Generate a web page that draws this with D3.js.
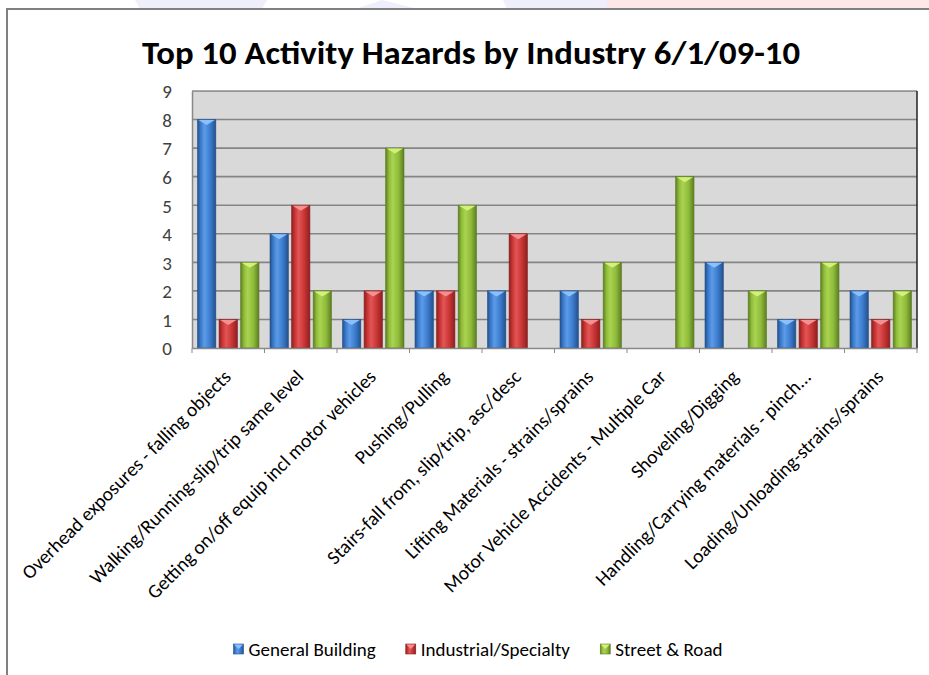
<!DOCTYPE html>
<meta charset="utf-8">
<style>
    body { margin: 0; background: #fff; }
    text { font-family: Carlito, Calibri, Lato, sans-serif; }
    .grid line { stroke: #858585; stroke-width: 1.6; }
    .axis--y text { font-size: 19px; fill: #404040; }
    .axis--x text { font-size: 19.5px; fill: #000; }
</style>
<svg width="929" height="675"></svg>
<script src="https://d3js.org/d3.v7.min.js"></script>
<script>

    var categories = [
        "Overhead exposures - falling objects",
        "Walking/Running-slip/trip same level",
        "Getting on/off equip incl motor vehicles",
        "Pushing/Pulling",
        "Stairs-fall from, slip/trip, asc/desc",
        "Lifting Materials - strains/sprains",
        "Motor Vehicle Accidents - Multiple Car",
        "Shoveling/Digging",
        "Handling/Carrying materials - pinch...",
        "Loading/Unloading-strains/sprains"
    ];
    var generalBuilding = [8, 4, 1, 2, 2, 2, 0, 3, 1, 2];
    var industrialSpecialty = [1, 5, 2, 2, 4, 1, 0, 0, 1, 1];
    var streetRoad = [3, 2, 7, 5, 0, 3, 6, 2, 3, 2];
    var seriesNames = ["General Building", "Industrial/Specialty", "Street & Road"];
    var yTicks = [0, 1, 2, 3, 4, 5, 6, 7, 8, 9];

    var svg = d3.select("svg"),
        margin = {top: 91, right: 12, bottom: 327, left: 192},
        width = +svg.attr("width") - margin.left - margin.right,
        height = +svg.attr("height") - margin.top - margin.bottom;

    // colours: [edge, main, highlight, bevel]
    var palette = [
        ["#24508c", "#3b7bcc", "#5b9be8", "#8cc0fa"],
        ["#8c2020", "#c93434", "#e25656", "#f59090"],
        ["#5c7d22", "#8fbb3a", "#a9d450", "#d2f07a"]
    ];

    var defs = svg.append("defs");
    palette.forEach(function(c, i) {
        var gr = defs.append("linearGradient").attr("id", "grad" + i)
            .attr("x1", "0%").attr("x2", "100%").attr("y1", "0%").attr("y2", "0%");
        gr.append("stop").attr("offset", "0%").attr("stop-color", c[0]);
        gr.append("stop").attr("offset", "18%").attr("stop-color", c[1]);
        gr.append("stop").attr("offset", "38%").attr("stop-color", c[2]);
        gr.append("stop").attr("offset", "70%").attr("stop-color", c[1]);
        gr.append("stop").attr("offset", "100%").attr("stop-color", c[0]);
    });

    // faint watermark strip above the frame
    var wm = svg.append("g");
    wm.append("path").attr("d", "M135,0 L267,0 L262,9 L140,9 Z").attr("fill", "#efeffc");
    wm.append("path").attr("d", "M382,0 L418,9 L355,9 Z").attr("fill", "#efeffc");
    wm.append("path").attr("d", "M503,0 L607,0 L607,9 L507,9 Z").attr("fill", "#efeffc");
    wm.append("path").attr("d", "M607,0 L929,0 L929,9 L607,9 Z").attr("fill", "#fde7e9");

    // chart frame
    svg.append("path").attr("d", "M7,675 L7,9 L929,9")
        .attr("fill", "none").attr("stroke", "#808080").attr("stroke-width", 2);

    svg.append("text")
        .attr("x", 471).attr("y", 64)
        .attr("text-anchor", "middle")
        .style("font-size", "33px").style("font-weight", "bold")
        .attr("textLength", 658).attr("lengthAdjust", "spacingAndGlyphs")
        .text("Top 10 Activity Hazards by Industry 6/1/09-10");

    var g = svg.append("g")
        .attr("transform", "translate(" + margin.left + "," + margin.top + ")");

    var x0 = d3.scaleBand().domain(categories).range([0, width]),
        x1 = d3.scaleBand().domain([0, 1, 2]).range([5.5, x0.bandwidth() - 5.5]).paddingInner(0.15),
        y = d3.scaleLinear().domain([0, 9]).range([height, 0]);

    g.append("rect").attr("width", width).attr("height", height).attr("fill", "#d9d9d9");

    g.append("g").attr("class", "grid")
        .selectAll("line").data(yTicks.slice(1, -1)).enter().append("line")
        .attr("x1", 0).attr("x2", width)
        .attr("y1", function(d) { return y(d); })
        .attr("y2", function(d) { return y(d); });

    // plot border
    g.append("line").attr("x1", 0).attr("x2", width).attr("y1", 0).attr("y2", 0)
        .attr("stroke", "#555").attr("stroke-width", 1);
    g.append("line").attr("x1", width).attr("x2", width).attr("y1", 0).attr("y2", height)
        .attr("stroke", "#222").attr("stroke-width", 1.5);

    var rows = categories.map(function(c, i) {
        return {cat: c, values: [generalBuilding[i], industrialSpecialty[i], streetRoad[i]]};
    });

    var group = g.selectAll(".group").data(rows).enter().append("g")
        .attr("class", "group")
        .attr("transform", function(d) { return "translate(" + x0(d.cat) + ",0)"; });

    var bars = group.selectAll(".bar")
        .data(function(d) { return d.values.map(function(v, k) { return {k: k, v: v}; }).filter(function(e) { return e.v > 0; }); })
        .enter().append("g").attr("class", "bar");

    bars.append("rect")
        .attr("x", function(d) { return x1(d.k); })
        .attr("y", function(d) { return y(d.v); })
        .attr("width", x1.bandwidth())
        .attr("height", function(d) { return height - y(d.v); })
        .attr("fill", function(d) { return "url(#grad" + d.k + ")"; })
        .attr("stroke", function(d) { return palette[d.k][0]; })
        .attr("stroke-width", 0.6);

    bars.append("path")
        .attr("d", function(d) {
            var bx = x1(d.k), by = y(d.v), bw = x1.bandwidth();
            return "M" + (bx + 1) + "," + (by + 0.5) + " L" + (bx + bw - 1) + "," + (by + 0.5) +
                " L" + (bx + bw / 2) + "," + (by + 5.5) + " Z";
        })
        .attr("fill", function(d) { return palette[d.k][3]; });

    // axes
    var yAxis = g.append("g").attr("class", "axis axis--y")
        .call(d3.axisLeft(y).tickValues(yTicks).tickSize(0).tickPadding(20));
    yAxis.select(".domain").attr("stroke", "#888").attr("stroke-width", 1.5);
    yAxis.selectAll("text").attr("dy", "0.36em");

    var xAxis = g.append("g").attr("class", "axis axis--x")
        .attr("transform", "translate(0," + height + ")")
        .call(d3.axisBottom(x0).tickSize(0).tickFormat(""));
    xAxis.select(".domain").attr("stroke", "#888").attr("stroke-width", 1.5);

    xAxis.selectAll(".sep").data(d3.range(categories.length + 1)).enter().append("line")
        .attr("class", "sep")
        .attr("x1", function(i) { return i * x0.step(); })
        .attr("x2", function(i) { return i * x0.step(); })
        .attr("y1", 0).attr("y2", 5)
        .attr("stroke", "#888").attr("stroke-width", 1);

    xAxis.selectAll(".lbl").data(categories).enter().append("text")
        .attr("class", "lbl")
        .attr("text-anchor", "end")
        .attr("transform", function(d) {
            return "translate(" + (x0(d) + x0.bandwidth() / 2 + 4) + ",30) rotate(-45)";
        })
        .text(function(d) { return d; });

    // legend, centred on the chart area
    var legend = svg.append("g");
    var item = legend.selectAll(".item").data(seriesNames).enter().append("g")
        .attr("class", "item");
    item.append("rect").attr("width", 10).attr("height", 10).attr("y", -12)
        .attr("fill", function(d, i) { return "url(#grad" + i + ")"; })
        .attr("stroke", function(d, i) { return palette[i][0]; }).attr("stroke-width", 0.6);
    item.append("path").attr("d", "M0.5,-11.5 L9.5,-11.5 L5,-7 Z")
        .attr("fill", function(d, i) { return palette[i][3]; });
    item.append("text").attr("x", 15).attr("y", 0)
        .style("font-size", "19px").attr("fill", "#000")
        .text(function(d) { return d; });
    var off = 0;
    item.each(function() {
        d3.select(this).attr("transform", "translate(" + off + ",0)");
        off += this.getBBox().width + 30;
    });
    var legendW = off - 30;
    legend.attr("transform", "translate(" + (478 - legendW / 2) + ",656)");

</script>
